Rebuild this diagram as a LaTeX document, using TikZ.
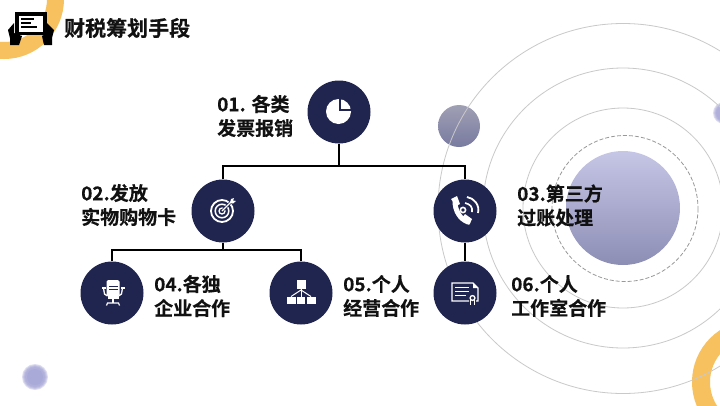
\documentclass[tikz,border=0pt]{standalone}
\usepackage{fontspec}
\setmainfont{Noto Sans CJK SC}[BoldFont={Noto Sans CJK SC Bold}]
\newfontfamily\cjkbold{Noto Sans CJK SC Bold}[FakeBold=0.35]
\definecolor{navy}{HTML}{20254F}
\definecolor{orangering}{HTML}{F7C15F}
\definecolor{ringgray}{HTML}{C9C9C9}
\definecolor{ink}{HTML}{111111}
\definecolor{smalltop}{RGB}{160,160,180}
\definecolor{smallbot}{RGB}{120,122,160}
\definecolor{bigtop}{RGB}{198,199,230}
\definecolor{bigbot}{RGB}{140,142,180}
\definecolor{blurb}{RGB}{160,160,212}
\tikzset{
  hub/.style={circle,fill=navy,minimum size=63pt,inner sep=0pt},
  lab/.style={anchor=west,align=left,inner sep=0pt,text=ink,font=\fontsize{19}{24}\selectfont\cjkbold},
  link/.style={draw=black,line width=2pt},
  ring/.style={draw=ringgray,line width=0.8pt},
  softdot/.style={fill=blurb,fill opacity=0.35}
}
\begin{document}
\begin{tikzpicture}[x=1pt,y=-1pt]
\clip (0,0) rectangle (720,405);
\fill[white] (0,0) rectangle (720,405);
% decoration
\draw[orangering,line width=17pt] (4,-1) circle (51.5);
\draw[orangering,line width=18pt] (754,382) circle (53);
\shade[top color=smalltop,bottom color=smallbot] (459,126) circle (21);
\foreach \r in {13,12,11,10,8}{\fill[softdot] (35,377) circle (\r);}
\foreach \r in {11,10,9,8}{\fill[softdot] (724,113) circle (\r);}
\shade[top color=bigtop,bottom color=bigbot] (623,208) circle (57);
\draw[ring] (623,208.5) circle (185);
\draw[ring] (623,208) circle (140);
\draw[ring] (623,208) circle (100);
\draw[draw=gray!80,line width=0.8pt,dash pattern=on 4pt off 2pt] (625,208.5) circle (73);
% hubs
\node[hub] (n01) at (339,112) {};
\node[hub] (n02) at (223,211) {};
\node[hub] (n03) at (465,211) {};
\node[hub] (n04) at (112,293) {};
\node[hub] (n05) at (301,293) {};
\node[hub] (n06) at (465,293) {};
\coordinate (busa) at (339,166);
\coordinate (busb) at (223,250);
\draw[link] (n01) -- (busa);
\draw[link] (n02.north) |- (busa);
\draw[link] (n03.north) |- (busa);
\draw[link] (n02) -- (busb);
\draw[link] (n04.north) |- (busb);
\draw[link] (n05.north) |- (busb);
\draw[link] (n03) -- (n06);
% labels
\node[lab] (t01) at (217,116) {01. 各类\\发票报销};
\node[lab] (t02) at (81,205) {02.发放\\实物购物卡};
\node[lab] (t03) at (517,205.5) {03.第三方\\过账处理};
\node[lab] (t04) at (154,296) {04.各独\\企业合作};
\node[lab] (t05) at (343,296) {05.个人\\经营合作};
\node[lab] (t06) at (511,296) {06.个人\\工作室合作};
\node[anchor=west,inner sep=0pt,text=ink,font=\fontsize{21}{24}\selectfont\cjkbold] (title) at (64,28) {财税筹划手段};
% title icon
\fill[black] (15,12) rectangle (47,35);
\fill[white] (19,16) rectangle (43,32);
\fill[black] (21,18) rectangle (34,19.5);
\fill[black] (21,22) rectangle (31,23.5);
\fill[black] (21,26) rectangle (37,27.5);
\fill[black] (14,23) -- (8,30) -- (10,38) -- (10,45) -- (19,45) -- (22,36) -- (14,33) -- cycle;
\fill[black] (47,23) -- (54,30) -- (52,38) -- (52,45) -- (44,45) -- (42,36) -- (47,33) -- cycle;
% pie icon
\begin{scope}[shift={(338.5,111.5)}]
\fill[white] (0,0) circle (12.5);
\fill[navy] (0.2,-13) rectangle (2.4,-0.2);
\fill[navy] (0.2,-2.4) rectangle (13,-0.2);
\end{scope}
% target icon
\begin{scope}[shift={(222,211)}]
\draw[white,line width=1.8pt] (0,0) circle (11);
\draw[white,line width=1.5pt] (0,0) circle (6.8);
\draw[white,line width=1.3pt] (0,0) circle (3);
\draw[navy,line width=2.5pt] (1,-1) -- (9,-9);
\draw[white,line width=1.1pt] (0,0) -- (10,-10);
\fill[white] (8,-8) -- (9,-12) -- (12,-13) -- (11,-10.5) -- (14,-10) -- (11,-7.5) -- cycle;
\end{scope}
% phone icon
\begin{scope}[shift={(465,211)}]
\draw[white,line width=5pt,line cap=round] (-10,-10) .. controls (-10,0) and (-5,8) .. (3,11);
\fill[white] (-14,-12) -- (-8,-15) -- (-5,-7) -- (-9,-5) -- cycle;
\fill[white] (-3,7) -- (0,3) -- (7,8) -- (4,14) -- cycle;
\draw[white,line width=1.6pt] (-2,-1) circle (2.6);
\draw[white,line width=1.6pt] (0,-8) .. controls (5,-7) and (8,-4) .. (7,1);
\draw[white,line width=1.8pt] (2,-14) .. controls (9,-13) and (15,-6) .. (13,2);
\end{scope}
% chair icon
\begin{scope}[shift={(112.5,293)}]
\fill[white,rounded corners=1.5pt] (-6,-13) rectangle (7,3);
\fill[navy] (-4,-7.5) rectangle (5,-6.7);
\fill[navy] (-4,-4) rectangle (5,-3.2);
\draw[white,line width=1.3pt] (-9,-5) -- (-8,1) -- (-5,3);
\draw[white,line width=1.3pt] (10,-5) -- (9,1) -- (6,3);
\fill[white] (-11,-6) rectangle (-7,-4);
\fill[white] (8,-6) rectangle (12,-4);
\fill[white] (-5,3) rectangle (6,5.5);
\draw[white,line width=1.3pt] (0.5,5) -- (0.5,10);
\draw[white,line width=1.2pt] (-6,12.5) -- (-5,10) -- (6,10) -- (7,12.5);
\end{scope}
% hierarchy icon
\begin{scope}[shift={(301,293)}]
\fill[white] (-4.5,-13) rectangle (4.5,-4.5);
\fill[white] (-14.5,3.5) rectangle (-5.5,11);
\fill[white] (-4,3.5) rectangle (4,11);
\fill[white] (5.5,3.5) rectangle (14.5,11);
\draw[white,line width=1pt] (0,-4.5) -- (0,3.5);
\draw[white,line width=1pt] (0,-3) -- (-10,3.5);
\draw[white,line width=1pt] (0,-3) -- (10,3.5);
\end{scope}
% certificate icon
\begin{scope}[shift={(465,293)}]
\draw[white,line width=1.4pt] (4,8) -- (-13,8) -- (-13,-10) -- (8,-10) -- (13,-5) -- (13,8) -- (11,8);
\fill[white] (8,-10) -- (13,-5) -- (8,-5) -- cycle;
\draw[white,line width=1pt] (-10,-6) -- (4,-6);
\draw[white,line width=1pt] (-10,-2) -- (4,-2);
\draw[white,line width=1pt] (-10,2) -- (1,2);
\draw[white,line width=1.3pt] (7.5,5) circle (2.4);
\draw[white,line width=1.1pt] (5.8,7) -- (5.8,12);
\draw[white,line width=1.1pt] (9.2,7) -- (9.2,12);
\end{scope}
\end{tikzpicture}
\end{document}
